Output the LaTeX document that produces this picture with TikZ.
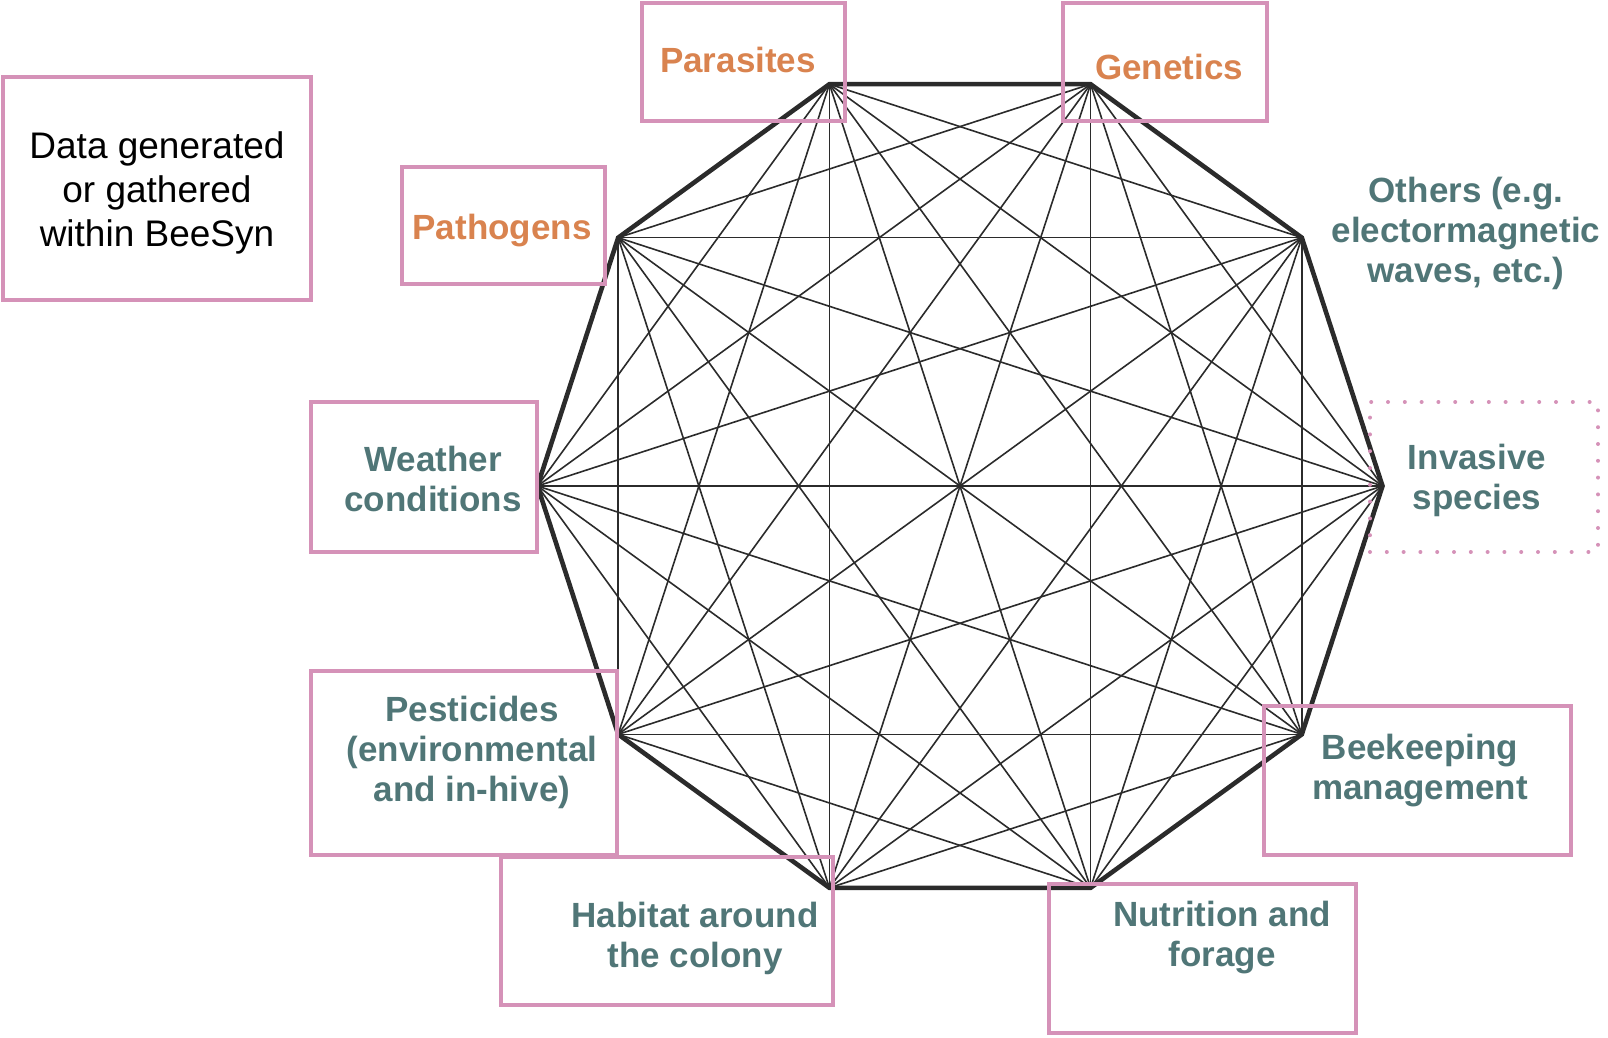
\documentclass[tikz,border=0pt]{standalone}
\usepackage{fontspec}
\setmainfont{Liberation Sans}
\usetikzlibrary{calc}
\definecolor{bsPink}  {HTML}{D592B8}
\definecolor{bsOrange}{HTML}{D9834F}
\definecolor{bsTeal}  {HTML}{507677}
\definecolor{bsLine}  {HTML}{2B2B2B}

\begin{document}
\begin{tikzpicture}[x=0.5pt, y=-0.5pt,
    frame/.style={draw=bsPink, line width=1.7pt, inner sep=0pt},
    dotframe/.style={frame, line cap=round, dash pattern=on 0pt off 8.4pt, line width=2pt},
    lbl/.style={font=\bfseries\fontsize{17.5}{20}\selectfont, align=center, inner sep=0pt},
    orangelbl/.style={lbl, text=bsOrange},
    teallbl/.style={lbl, text=bsTeal},
    rim/.style={draw=bsLine, line width=2.3pt, line join=miter},
    chord/.style={draw=bsLine, line width=0.8pt}]
  \useasboundingbox (0,0) rectangle (1608,1038);

  % decagon with all its diagonals
  \coordinate (ctr) at (960,486);
  \foreach \k in {0,...,9}
    \coordinate (v\k) at ($(ctr)+(-36*\k:422.5)$);
  \foreach \i in {0,...,7}{
    \pgfmathtruncatemacro\first{\i+2}
    \foreach \j in {\first,...,9}
      \draw[chord] (v\i) -- (v\j);
  }
  \draw[rim] (v0) \foreach \k in {1,...,9}{ -- (v\k)} -- cycle;

  % boxes
  \node[frame, minimum width=154pt, minimum height=111.5pt] (databox) at (157,188.5) {};
  \node[frame, minimum width=101.5pt, minimum height=59pt] (parabox) at (743.5,62) {};
  \node[frame, minimum width=102pt, minimum height=59pt] (genebox) at (1165,62) {};
  \node[frame, minimum width=101.5pt, minimum height=58.5pt] (pathbox) at (503.5,225.5) {};
  \node[dotframe, minimum width=114pt, minimum height=75pt] (invbox) at (1484,477) {};
  \node[frame, minimum width=113pt, minimum height=75pt] (weatherbox) at (424,477) {};
  \node[frame, minimum width=153pt, minimum height=92pt] (pestbox) at (464,763) {};
  \node[frame, minimum width=166pt, minimum height=74pt] (habbox) at (667,931) {};
  \node[frame, minimum width=153.5pt, minimum height=74.5pt] (beebox) at (1417.5,780.5) {};
  \node[frame, minimum width=153.5pt, minimum height=74.5pt] (nutbox) at (1202.5,958.5) {};

  % labels
  \node[align=center, inner sep=0pt, font=\fontsize{18.5}{22}\selectfont] (data) at (157,193)
    {Data generated\\or gathered\\within BeeSyn};
  \node[orangelbl] (parasites) at (738,60) {Parasites};
  \node[orangelbl] (genetics) at (1169,67) {Genetics};
  \node[orangelbl] (pathogens) at (502,231) {Pathogens};
  \node[teallbl] (others) at (1466,233) {Others (e.g.\\electormagnetic\\waves, etc.)};
  \node[teallbl] (invasive) at (1477,480) {Invasive\\species};
  \node[teallbl] (weather) at (433,479) {Weather\\conditions};
  \node[teallbl] (pesticides) at (472,752) {Pesticides\\(environmental\\and in-hive)};
  \node[teallbl] (habitat) at (695,938) {Habitat around\\the colony};
  \node[teallbl] (beekeeping) at (1420,771) {Beekeeping\\management};
  \node[teallbl] (nutrition) at (1222,938) {Nutrition and\\forage};
\end{tikzpicture}
\end{document}
